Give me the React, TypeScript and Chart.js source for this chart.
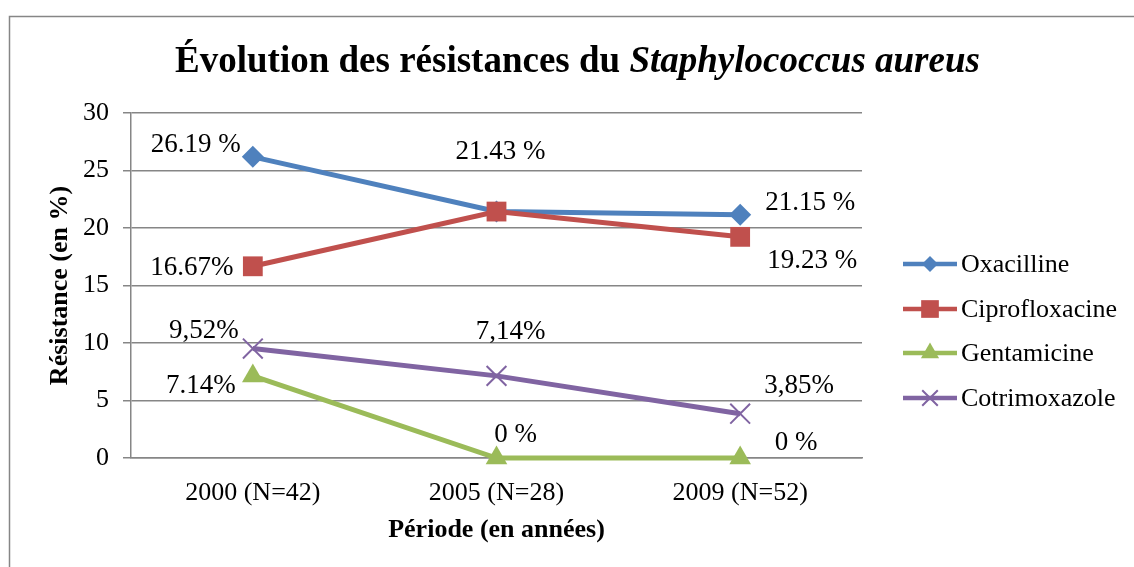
import React, { useEffect, useRef } from "react";
import { Chart, registerables } from "chart.js";

Chart.register(...registerables);

// ---- Data ----
const categories = ["2000 (N=42)", "2005 (N=28)", "2009 (N=52)"];
const seriesNames = ["Oxacilline", "Ciprofloxacine", "Gentamicine", "Cotrimoxazole"];
const oxacilline = [26.19, 21.43, 21.15];
const ciprofloxacine = [16.67, 21.43, 19.23];
const gentamicine = [7.14, 0, 0];
const cotrimoxazole = [9.52, 7.14, 3.85];
const oxacillineLabels = ["26.19 %", "21.43 %", "21.15 %"];
const ciprofloxacineLabels = ["16.67%", "", "19.23 %"];
const gentamicineLabels = ["7.14%", "0 %", "0 %"];
const cotrimoxazoleLabels = ["9,52%", "7,14%", "3,85%"];
const yMin = 0;
const yMax = 30;
const yStep = 5;
const titlePlain = "Évolution des résistances du ";
const titleItalic = "Staphylococcus aureus";
const yTitle = "Résistance (en %)";
const xTitle = "Période (en années)";

// ---- Styles ----
const FONT = '"Liberation Serif", "Times New Roman", serif';
const GRID = "#868686";
const colors = ["#4F81BD", "#C0504D", "#9BBB59", "#8064A2"];
const pointStyles = ["rectRot", "rect", "triangle", "crossRot"];
const pointRadii = [11, 14, 12.5, 14];
const legendRadii = [8, 12.5, 10.5, 11];
// label offsets (dx, dy) relative to each point, in pixels
const labelOffsets = [
  [[-57, -12], [4, -60], [70, -12]],
  [[-61, 2], [0, 0], [72, 24]],
  [[-52, 10], [19, -23], [56, -15]],
  [[-49, -18], [14, -44], [59, -28]],
];

function drawMarker(ctx: CanvasRenderingContext2D, style: string, x: number, y: number, r: number, color: string) {
  ctx.save();
  ctx.fillStyle = color;
  ctx.strokeStyle = color;
  ctx.beginPath();
  if (style === "rectRot") {
    ctx.moveTo(x, y - r);
    ctx.lineTo(x + r, y);
    ctx.lineTo(x, y + r);
    ctx.lineTo(x - r, y);
    ctx.closePath();
    ctx.fill();
  } else if (style === "rect") {
    const s = r * Math.SQRT1_2;
    ctx.rect(x - s, y - s, 2 * s, 2 * s);
    ctx.fill();
  } else if (style === "triangle") {
    for (let i = 0; i < 3; i++) {
      const a = (i * 2 * Math.PI) / 3;
      const px = x + Math.sin(a) * r;
      const py = y - Math.cos(a) * r;
      if (i === 0) ctx.moveTo(px, py);
      else ctx.lineTo(px, py);
    }
    ctx.closePath();
    ctx.fill();
  } else {
    const s = r * Math.SQRT1_2;
    ctx.lineWidth = 2;
    ctx.moveTo(x - s, y - s);
    ctx.lineTo(x + s, y + s);
    ctx.moveTo(x - s, y + s);
    ctx.lineTo(x + s, y - s);
    ctx.stroke();
  }
  ctx.restore();
}

const decorPlugin = {
  id: "decor",
  beforeDraw(chart: any) {
    const ctx = chart.ctx as CanvasRenderingContext2D;
    ctx.save();
    ctx.fillStyle = "#fff";
    ctx.fillRect(0, 0, chart.width, chart.height);
    ctx.strokeStyle = GRID;
    ctx.lineWidth = 1.5;
    ctx.strokeRect(9.5, 16.5, chart.width + 50, chart.height + 50);
    ctx.restore();
  },
  afterDraw(chart: any) {
    const ctx = chart.ctx as CanvasRenderingContext2D;
    const area = chart.chartArea;
    ctx.save();
    // Title
    ctx.fillStyle = "#000";
    ctx.textBaseline = "alphabetic";
    ctx.font = `bold 37px ${FONT}`;
    const w1 = ctx.measureText(titlePlain).width;
    ctx.font = `italic bold 37px ${FONT}`;
    const w2 = ctx.measureText(titleItalic).width;
    const tx = 577.5 - (w1 + w2) / 2;
    ctx.font = `bold 37px ${FONT}`;
    ctx.textAlign = "left";
    ctx.fillText(titlePlain, tx, 72);
    ctx.font = `italic bold 37px ${FONT}`;
    ctx.fillText(titleItalic, tx + w1, 72);

    // Axis titles
    ctx.font = `bold 26px ${FONT}`;
    ctx.textAlign = "center";
    ctx.textBaseline = "middle";
    ctx.fillText(xTitle, (area.left + area.right) / 2, 530);
    ctx.save();
    ctx.translate(60, (area.top + area.bottom) / 2);
    ctx.rotate(-Math.PI / 2);
    ctx.fillText(yTitle, 0, 0);
    ctx.restore();

    // Data labels
    const labelSets = [oxacillineLabels, ciprofloxacineLabels, gentamicineLabels, cotrimoxazoleLabels];
    ctx.font = `27px ${FONT}`;
    ctx.textAlign = "center";
    ctx.textBaseline = "middle";
    labelSets.forEach((labels, di) => {
      const meta = chart.getDatasetMeta(di);
      meta.data.forEach((pt: any, i: number) => {
        const txt = labels[i];
        if (!txt) return;
        const [dx, dy] = labelOffsets[di][i];
        ctx.fillText(txt, pt.x + dx, pt.y + dy);
      });
    });

    // Legend
    const lx0 = 903, lx1 = 957, rows = [264, 309, 353, 398];
    seriesNames.forEach((name, i) => {
      const y = rows[i];
      ctx.strokeStyle = colors[i];
      ctx.lineWidth = 4.5;
      ctx.beginPath();
      ctx.moveTo(lx0, y);
      ctx.lineTo(lx1, y);
      ctx.stroke();
      drawMarker(ctx, pointStyles[i], (lx0 + lx1) / 2, y, legendRadii[i], colors[i]);
      ctx.fillStyle = "#000";
      ctx.font = `26px ${FONT}`;
      ctx.textAlign = "left";
      ctx.textBaseline = "middle";
      ctx.fillText(name, 961, y + 1);
    });
    ctx.restore();
  },
};

export default function App() {
  const ref = useRef<HTMLCanvasElement | null>(null);
  useEffect(() => {
    if (!ref.current) return;
    const values = [oxacilline, ciprofloxacine, gentamicine, cotrimoxazole];
    const chart = new Chart(ref.current, {
      type: "line",
      data: {
        labels: categories,
        datasets: values.map((d, i) => ({
          label: seriesNames[i],
          data: d,
          borderColor: colors[i],
          backgroundColor: colors[i],
          borderWidth: 5,
          pointStyle: pointStyles[i] as any,
          pointRadius: pointRadii[i],
          pointBorderWidth: i === 3 ? 2 : 0,
          pointBorderColor: colors[i],
          pointBackgroundColor: colors[i],
          tension: 0,
          fill: false,
          clip: false as any,
          order: values.length - 1 - i,
        })),
      },
      options: {
        responsive: false,
        animation: false,
        layout: { padding: { top: 113, right: 272, bottom: 0, left: 0 } },
        plugins: {
          legend: { display: false },
          title: { display: false },
          tooltip: { enabled: false },
        },
        scales: {
          x: {
            offset: true,
            grid: { display: false, drawTicks: false },
            border: { display: true, color: GRID, width: 1.5 },
            ticks: { color: "#000", font: { family: FONT, size: 26 }, padding: 20 },
            afterFit: (s: any) => {
              s.height = 109;
            },
          },
          y: {
            min: yMin,
            max: yMax,
            ticks: { stepSize: yStep, color: "#000", font: { family: FONT, size: 26 }, padding: 14 },
            grid: { color: GRID, lineWidth: 1.5, drawTicks: true, tickLength: 8 },
            border: { display: true, color: GRID, width: 1.5 },
            afterFit: (s: any) => {
              s.width = 131;
            },
          },
        },
      },
      plugins: [decorPlugin],
    });
    return () => chart.destroy();
  }, []);
  return (
    <div style={{ position: "fixed", left: 0, top: 0, width: 1134, height: 567, background: "#fff" }}>
      <canvas ref={ref} width={1134} height={567} style={{ display: "block" }} />
    </div>
  );
}
